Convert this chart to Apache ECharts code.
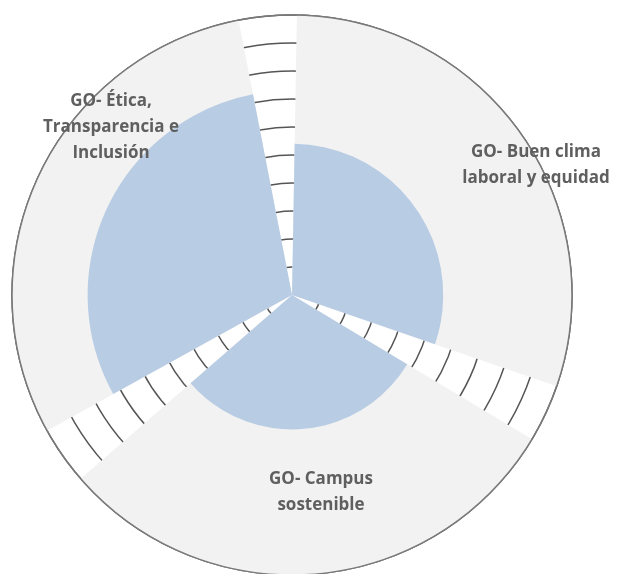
<!DOCTYPE html>
<html><head><meta charset="utf-8">
<script src="https://cdn.jsdelivr.net/npm/echarts@6/dist/echarts.min.js"></script>
<style>html,body{margin:0;padding:0;background:#fff}#c{width:617px;height:574px}</style>
</head><body><div id="c"></div>
<script>
const categories = ['GO- Buen clima\nlaboral y equidad', 'GO- Campus\nsostenible', 'GO- Ética,\nTransparencia e\nInclusión'];
const outerValues = [10, 10, 10];
const innerValues = [5.4, 4.8, 7.3];
const labelPositions = [[536, 165], [321, 492], [111, 127]];

const chart = echarts.init(document.getElementById('c'));
chart.setOption({
  animation: false,
  backgroundColor: '#ffffff',
  polar: { center: [292, 295], radius: 280 },
  angleAxis: {
    type: 'category', data: categories, startAngle: 95, clockwise: true, z: 10,
    axisLine: { show: true, lineStyle: { color: '#7a7a7a', width: 1.5 } },
    axisTick: { show: false }, axisLabel: { show: false }, splitLine: { show: false }
  },
  radiusAxis: {
    min: 0, max: 10, interval: 1,
    axisLine: { show: false }, axisTick: { show: false }, axisLabel: { show: false },
    splitLine: { show: true, lineStyle: { color: '#555555', width: 1.5 } }
  },
  series: [
    { type: 'bar', coordinateSystem: 'polar', data: outerValues, barGap: '-100%', barCategoryGap: '10%',
      itemStyle: { color: '#f2f2f2' }, silent: true },
    { type: 'bar', coordinateSystem: 'polar', data: innerValues, barGap: '-100%', barCategoryGap: '10%',
      itemStyle: { color: '#b8cce4' }, silent: true }
  ],
  graphic: categories.map((t, i) => ({
    type: 'text', x: labelPositions[i][0], y: labelPositions[i][1], z: 100,
    style: { text: t, fill: '#5f5f5f', font: 'bold 17px "Open Sans"', textAlign: 'center', textVerticalAlign: 'middle', lineHeight: 26 }
  }))
});
</script></body></html>
